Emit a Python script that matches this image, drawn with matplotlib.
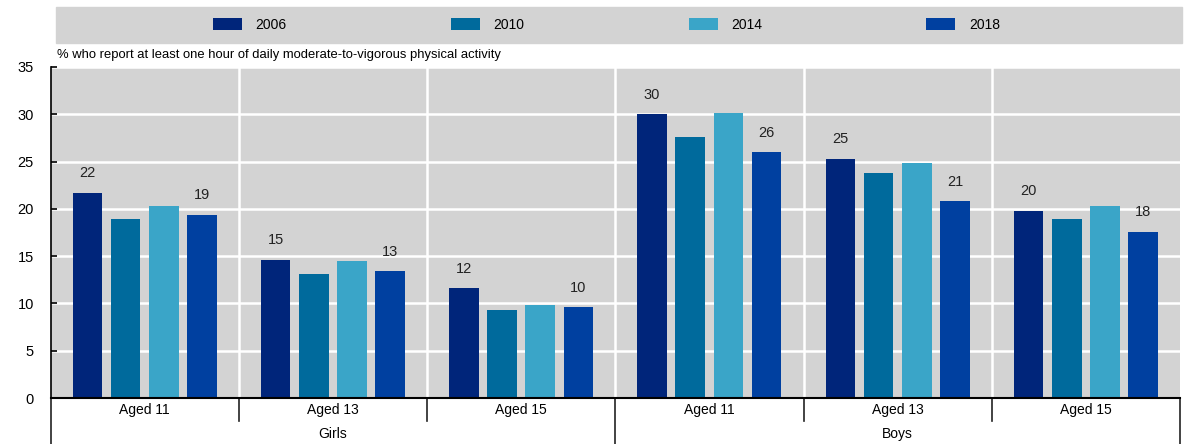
import matplotlib
matplotlib.use('Agg')
import matplotlib.pyplot as plt
from matplotlib.lines import Line2D
from matplotlib.patches import Rectangle
import numpy as np

plt.rcParams['font.family'] = ['Liberation Sans', 'DejaVu Sans']

# 數據 ------------------------------------------
years = ['2006', '2010', '2014', '2018']
ages = ['Aged 11', 'Aged 13', 'Aged 15', 'Aged 11', 'Aged 13', 'Aged 15']
genders = ['Girls', 'Boys']
v2006 = [21.7, 14.6, 11.6, 30.0, 25.3, 19.8]
v2010 = [18.9, 13.1, 9.3, 27.6, 23.8, 18.9]
v2014 = [20.3, 14.5, 9.8, 30.1, 24.8, 20.3]
v2018 = [19.4, 13.4, 9.6, 26.0, 20.8, 17.6]
labelled = ['2006', '2018']   # 只有這兩年標數字
colors = ['#00257a', '#006a9c', '#3aa5c8', '#0040a0']
subtitle = '% who report at least one hour of daily moderate-to-vigorous physical activity'
#-----------------------------------------------

W, H = 1195, 444
fig = plt.figure(figsize=(W / 100, H / 100), dpi=100)
ax = fig.add_axes([50.5 / W, 46 / H, (1180 - 50.5) / W, 331 / H])
bg = '#d3d3d3'
ax.set_facecolor(bg)

series = [v2006, v2010, v2014, v2018]
x = np.arange(len(ages)) + 0.5
step = 0.203
width = 0.157
for i in range(len(years)):
    pos = x + (i - 1.5) * step
    bars = ax.bar(pos, series[i], width, color=colors[i], label=years[i], zorder=3)
    if years[i] in labelled:
        for b, v in zip(bars, series[i]):
            ax.annotate('%.0f' % v, (b.get_x() + b.get_width() / 2, v),
                        xytext=(0, 9), textcoords='offset points',
                        ha='center', va='bottom', fontsize=10.5, color='#222222')

ax.set_xlim(0, len(ages))
ax.set_ylim(0, 35)
ax.set_yticks(range(0, 36, 5))
ax.tick_params(axis='y', direction='in', length=4, width=1.2, labelsize=10.5, pad=12)
ax.set_xticks([])

# 格線 ----------------------------------------
for yv in range(5, 36, 5):
    ax.axhline(yv, color='white', lw=1.8, zorder=1)
for xv in range(1, len(ages)):
    ax.axvline(xv, color='white', lw=1.8, zorder=1)

for s in ['top', 'right']:
    ax.spines[s].set_visible(False)
ax.spines['left'].set_linewidth(1.2)
ax.spines['bottom'].set_linewidth(1.5)
ax.spines['bottom'].set_zorder(4)

# 下方分類標籤和分隔線 -------------------------
fbot = -46 / 331
for xv in range(0, len(ages) + 1):
    if xv % 3 == 0:
        ax.add_line(Line2D([xv, xv], [0, fbot], transform=ax.get_xaxis_transform(),
                           color='#222222', lw=1.2, clip_on=False))
    else:
        ax.add_line(Line2D([xv, xv], [0, -23 / 331], transform=ax.get_xaxis_transform(),
                           color='#222222', lw=1.2, clip_on=False))

for i in range(len(ages)):
    ax.text(x[i], -12 / 331, ages[i], transform=ax.get_xaxis_transform(),
            ha='center', va='center', fontsize=10)
for g in range(len(genders)):
    ax.text(1.5 + 3 * g, -36 / 331, genders[g], transform=ax.get_xaxis_transform(),
            ha='center', va='center', fontsize=10)

# 副標題 ----------------------------------------
fig.text(57 / W, 1 - 55 / H, subtitle, ha='left', va='center', fontsize=9.4)

# 圖例 ----------------------------------------
fig.patches.append(Rectangle((55.5 / W, 1 - 43 / H), (1182 - 55.5) / W, 36 / H,
                             transform=fig.transFigure, color=bg, zorder=0))
fig.legend(loc='center', bbox_to_anchor=(606.5 / W, 1 - 25 / H), ncol=4, frameon=False,
           fontsize=10, handlelength=2.09, handleheight=0.9, handletextpad=1.0,
           columnspacing=11.8)

plt.savefig('out.png', dpi=100)
